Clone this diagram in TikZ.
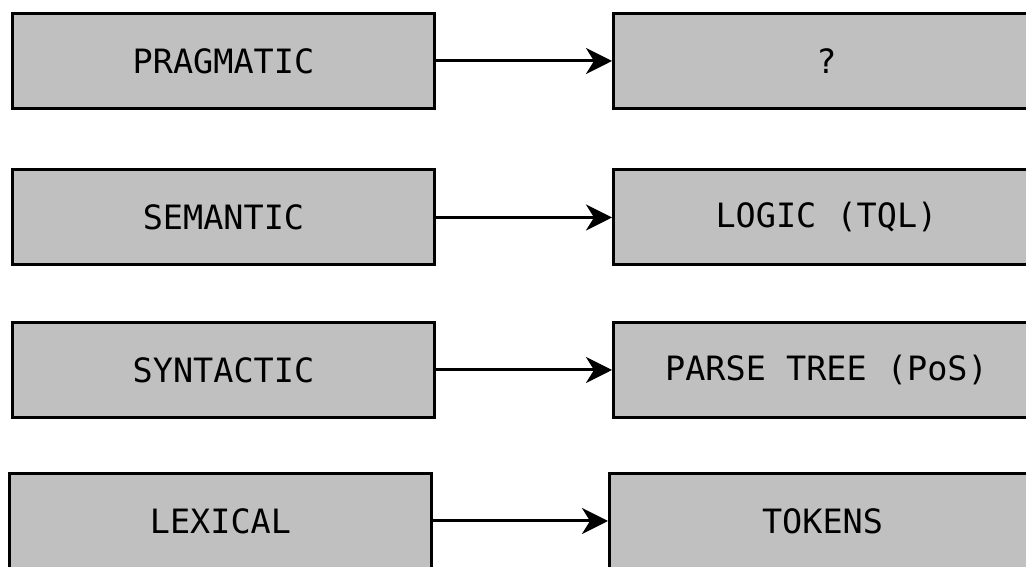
\documentclass[tikz,border=0pt]{standalone}
\usepackage{fontspec}
\newfontfamily\boxfont{DejaVu Sans Mono}
\usetikzlibrary{positioning,arrows.meta}
\definecolor{boxgray}{RGB}{192,192,192}

\tikzset{
  level/.style={draw=black,fill=boxgray,line width=3pt,minimum width=422pt,minimum height=95pt,
    font=\boxfont\fontsize{33.5}{40}\selectfont,inner sep=0pt},
  result/.style={level,minimum width=426pt},
  maps/.style={line width=3pt,-{Stealth[length=26pt,width=26pt,inset=8pt]}}
}

\begin{document}
\begin{tikzpicture}[x=1pt,y=1pt]

\clip (0,0) rectangle (1026,567);

\node [level] (prag) at (223.5,506) {PRAGMATIC};
\node [level] (sem) at (223.5,349.5) {SEMANTIC};
\node [level] (syn) at (223.5,197) {SYNTACTIC};
\node [level] (lex) at (220.5,46) {LEXICAL};

\node [result,right=176pt of prag] (what) {?};
\node [result,right=176pt of sem] (logic) {LOGIC (TQL)};
\node [result,right=176pt of syn] (tree) {PARSE TREE (PoS)};
\node [result,right=175pt of lex] (tok) {TOKENS};

\draw[maps] (prag) -- (what);
\draw[maps] (sem) -- (logic);
\draw[maps] (syn) -- (tree);
\draw[maps] (lex) -- (tok);

\end{tikzpicture}
\end{document}
